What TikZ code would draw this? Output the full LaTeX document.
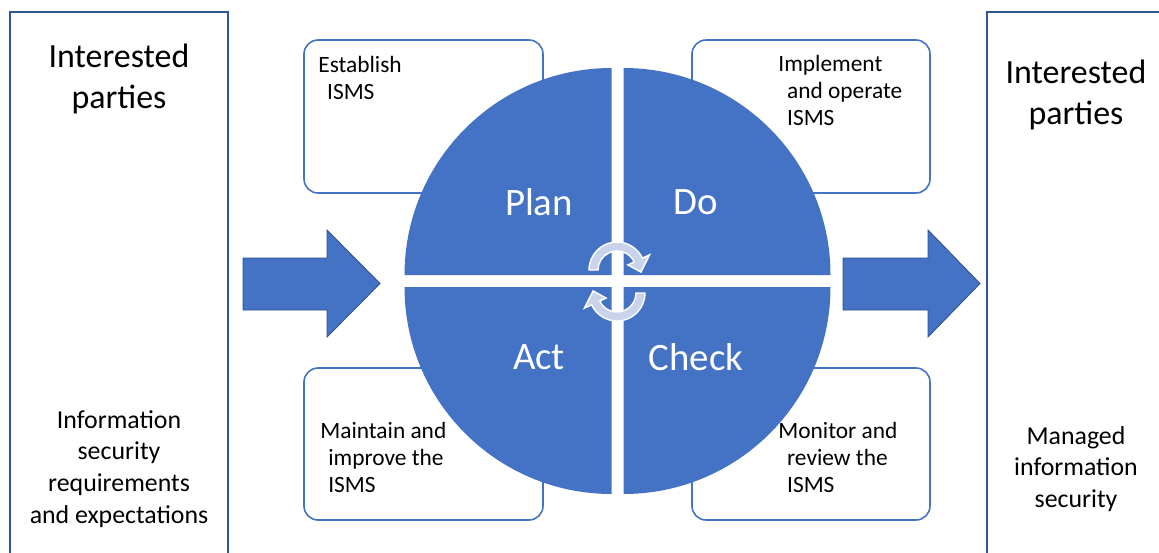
\documentclass[tikz,border=0pt]{standalone}
\usepackage{fontspec}
\setmainfont{Carlito}
\usetikzlibrary{calc}
\definecolor{ismsblue}{HTML}{4472C4}
\definecolor{ismsdark}{HTML}{2F5597}
\definecolor{ismsedge}{HTML}{2F528F}
\definecolor{cyclefill}{HTML}{C9D4EC}
\def\quarter(#1)(#2:#3){\fill[ismsblue] (#1) -- ++(#2:207) arc (#2:#3:207) -- cycle;}
\tikzset{
	party/.style={draw=ismsdark, line width=1.1pt},
	stepbox/.style={draw=ismsblue, fill=white, line width=0.9pt, rounded corners=8pt},
	steptext/.style={anchor=base west, inner sep=0pt, align=left, font=\fontsize{13.3}{15.3}\selectfont},
	bigtext/.style={inner sep=0pt, align=center, font=\fontsize{19.3}{23.8}\selectfont},
	sidetext/.style={inner sep=0pt, align=center, font=\fontsize{14.7}{18.1}\selectfont},
	phase/.style={inner sep=0pt, text=white, font=\fontsize{22.1}{26}\selectfont},
	blockarrow/.style={fill=ismsblue, draw=ismsedge, line width=0.5pt},
	cyclearrow/.style={fill=cyclefill, draw=white, line width=0.8pt}
}

\begin{document}
\begin{tikzpicture}[x=0.02cm, y=0.02cm]
		%%%%% START %%%%%
		\useasboundingbox (0,0) rectangle (1159,-552);
		\clip (0,0) rectangle (1159,-552);
		
		% interested parties
		\draw[party] (10,-12) rectangle (228,-580);
		\draw[party] (987,-12) rectangle (1180,-580);
		\node[bigtext] (inparty) at (119,-79) {Interested\\parties};
		\node[sidetext] (inreq) at (119,-469) {Information\\security\\requirements\\and expectations};
		\node[bigtext] (outparty) at (1076,-95) {Interested\\parties};
		\node[sidetext] (outsec) at (1076,-469) {Managed\\information\\security};
		
		% step boxes
		\draw[stepbox] (304,-40) rectangle (543,-193);
		\draw[stepbox] (692,-40) rectangle (930,-193);
		\draw[stepbox] (304,-368) rectangle (543,-520);
		\draw[stepbox] (692,-368) rectangle (930,-520);
		
		% PDCA circle
		\quarter(611.5,-275)(90:180)
		\quarter(623.5,-275)(0:90)
		\quarter(611.5,-287)(180:270)
		\quarter(623.5,-287)(270:360)
		\node[phase] (plan) at (539,-202) {Plan};
		\node[phase] (do) at (696,-202) {Do};
		\node[phase] (act) at (539,-357) {Act};
		\node[phase] (check) at (696,-357) {Check};
		
		% base is the last line
		\node[steptext] (establish) at (318,-99) {Establish\\\hspace*{5pt}ISMS};
		\node[steptext] (implement) at (778,-125) {Implement\\\hspace*{5pt}and operate\\\hspace*{5pt}ISMS};
		\node[steptext] (maintain) at (320,-492) {Maintain and\\\hspace*{4.5pt}improve the\\\hspace*{4.5pt}ISMS};
		\node[steptext] (monitor) at (778,-492) {Monitor and\\\hspace*{5pt}review the\\\hspace*{5pt}ISMS};
		
		% cycle arrows
		\coordinate (c1) at (617,-270);
		\coordinate (c2) at (617,-293);
		\draw[cyclearrow] ($(c1)+(180:28)$) arc[start angle=180, end angle=25, radius=28] -- ($(c1)+(25:36)$) -- ($(c1)+(-5:24)$) -- ($(c1)+(25:12)$) -- ($(c1)+(25:19)$) arc[start angle=25, end angle=180, radius=19] -- cycle;
		\draw[cyclearrow] ($(c2)+(0:28)$) arc[start angle=0, end angle=-155, radius=28] -- ($(c2)+(-155:36)$) -- ($(c2)+(175:24)$) -- ($(c2)+(-155:12)$) -- ($(c2)+(-155:19)$) arc[start angle=-155, end angle=0, radius=19] -- cycle;
		
		% in and out arrows
		\draw[blockarrow] (243,-258) -- (327,-258) -- (327,-230) -- (380,-283.5) -- (327,-337) -- (327,-310) -- (243,-310) -- cycle;
		\draw[blockarrow] (843,-258) -- (928,-258) -- (928,-230) -- (980,-283.5) -- (928,-337) -- (928,-310) -- (843,-310) -- cycle;
		
		%%%%% END %%%%%
\end{tikzpicture}
\end{document}
